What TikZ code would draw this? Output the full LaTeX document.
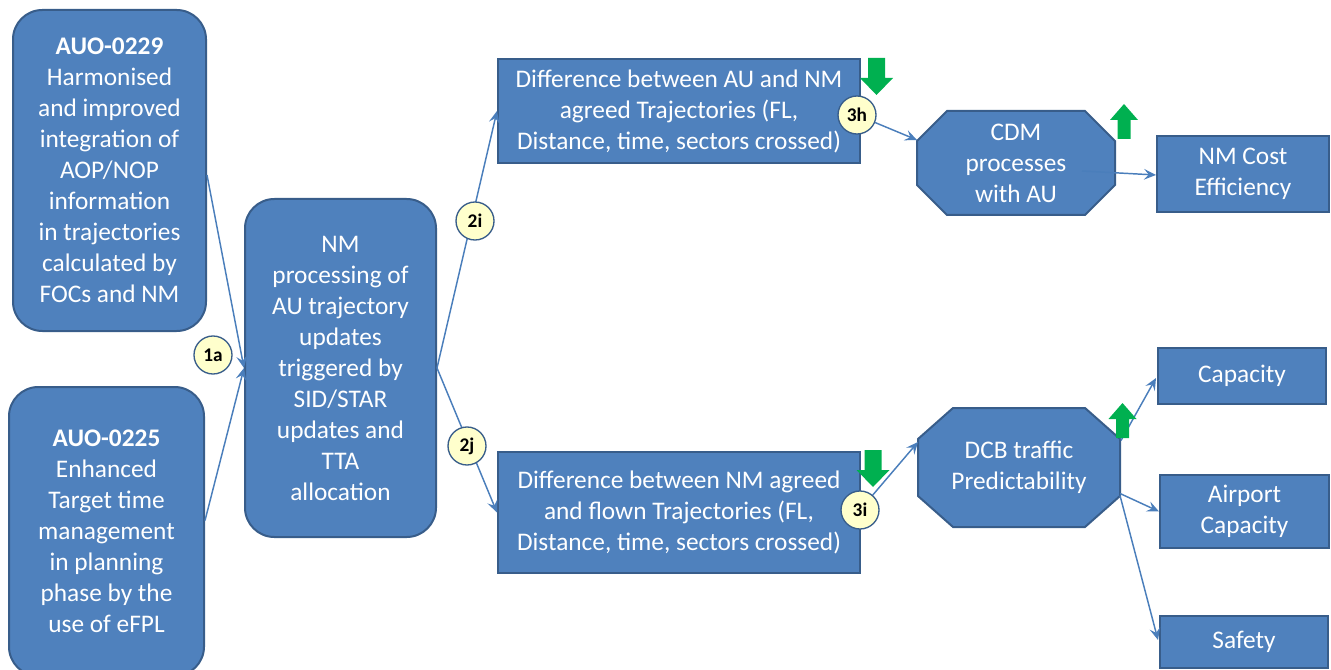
\documentclass[tikz,border=0pt]{standalone}
\usepackage{fontspec}
\setmainfont{Carlito}
\usetikzlibrary{arrows.meta,calc}

% one drawing unit = one pixel of the layout grid
\newlength\pxu
\setlength\pxu{0.75pt}

\definecolor{boxfill}{HTML}{4F81BD}
\definecolor{boxline}{HTML}{385D8A}
\definecolor{linkblue}{HTML}{4A7EBB}
\definecolor{badgefill}{HTML}{FFFFCC}
\definecolor{trendgreen}{HTML}{00B050}

\pgfdeclarelayer{back}
\pgfdeclarelayer{front}
\pgfsetlayers{back,main,front}

\tikzset{
  boxtext/.style={text=white, align=center, inner sep=0pt,
    font=\fontsize{19}{23.25}\selectfont},
  basebox/.style={boxtext, fill=boxfill, draw=boxline, line width=1.5pt},
  roundbox/.style={basebox, rounded corners=22pt},
  flatbox/.style={basebox, rectangle},
  octtext/.style={boxtext, rectangle, outer sep=0pt},
  octline/.style={fill=boxfill, draw=boxline, line width=1.5pt, line join=miter},
  badge/.style={circle, fill=badgefill, draw=boxline, line width=1pt,
    minimum size=28.5pt, inner sep=0pt,
    font=\fontsize{14.5}{16}\selectfont\bfseries},
  link/.style={draw=linkblue, line width=1.1pt,
    -{Stealth[length=9pt,width=8pt,inset=3.5pt]}},
  greendown/.pic={\fill[trendgreen] (-8.5,-18.5) -- (8.5,-18.5) -- (8.5,1.5)
    -- (16.5,1.5) -- (0,18.5) -- (-16.5,1.5) -- (-8.5,1.5) -- cycle;},
  greenup/.pic={\fill[trendgreen] (-6.5,17.5) -- (6.5,17.5) -- (6.5,-1.5)
    -- (14,-1.5) -- (0,-17.5) -- (-14,-1.5) -- (-6.5,-1.5) -- cycle;},
}

% octagon outline around a named node: #1 node, #2 horizontal cut, #3 vertical cut
\newcommand\octagonaround[3]{%
  \draw[octline] ($(#1.north west)+(#2,0)$) -- ($(#1.north east)+(-#2,0)$)
    -- ($(#1.north east)+(0,#3)$) -- ($(#1.south east)+(0,-#3)$)
    -- ($(#1.south east)+(-#2,0)$) -- ($(#1.south west)+(#2,0)$)
    -- ($(#1.south west)+(0,-#3)$) -- ($(#1.north west)+(0,#3)$) -- cycle;}

\begin{document}
\begin{tikzpicture}[x=\pxu, y=-\pxu]
\useasboundingbox (0,0) rectangle (1331,670);
\clip (0,0) rectangle (1331,670);

% operational improvements
\node[roundbox, minimum width=193\pxu, minimum height=321\pxu] (aop) at (109.5,170.5)
  {\textbf{AUO-0229}\\Harmonised\\and improved\\integration of\\AOP/NOP\\information\\in trajectories\\calculated by\\FOCs and NM};
\node[roundbox, minimum width=195\pxu, minimum height=289\pxu] (tta) at (106.5,531.5)
  {\textbf{AUO-0225}\\Enhanced\\Target time\\management\\in planning\\phase by the\\use of eFPL};

% NM processing
\node[roundbox, minimum width=191\pxu, minimum height=338\pxu] (nmp) at (340.5,368)
  {NM\\processing of\\AU trajectory\\updates\\triggered by\\SID/STAR\\updates and\\TTA\\allocation};

% trajectory differences
\node[flatbox, minimum width=362\pxu, minimum height=104\pxu] (agreed) at (679,111)
  {Difference between AU and NM\\agreed Trajectories (FL,\\Distance, time, sectors crossed)};
\node[flatbox, minimum width=362\pxu, minimum height=121\pxu] (flown) at (679,512.5)
  {Difference between NM agreed\\and flown Trajectories (FL,\\Distance, time, sectors crossed)};

% intermediate effects (octagons)
\node[octtext, minimum width=198\pxu, minimum height=104\pxu] (cdm) at (1016,163)
  {CDM\\processes\\with AU};
\node[octtext, minimum width=202\pxu, minimum height=119\pxu] (dcb) at (1019,467.5)
  {DCB traffic\\Predictability};
\begin{pgfonlayer}{back}
  \octagonaround{cdm}{30}{30}
  \octagonaround{dcb}{35}{31}
\end{pgfonlayer}

% performance areas
\node[flatbox, minimum width=172\pxu, minimum height=76\pxu] (cost) at (1243,174)
  {NM Cost\\Efficiency};
\node[flatbox, minimum width=168\pxu, minimum height=56\pxu] (cap) at (1242,376)
  {Capacity};
\node[flatbox, minimum width=169\pxu, minimum height=73\pxu] (apt) at (1244.5,511.5)
  {Airport\\Capacity};
\node[flatbox, minimum width=168\pxu, minimum height=52\pxu] (saf) at (1244,642)
  {Safety};

% numbered badges and trend arrows
\begin{pgfonlayer}{front}
  \node[badge] (b1a) at (213,355) {1a};
  \node[badge] (b2i) at (475,221) {2i};
  \node[badge] (b2j) at (467,446) {2j};
  \node[badge] (b3h) at (857,115) {3h};
  \node[badge] (b3i) at (860,510) {3i};
  \pic at (876.5,76.5) {greendown};
  \pic at (873,468.5) {greendown};
  \pic at (1124,121.5) {greenup};
  \pic at (1122.5,420.5) {greenup};
\end{pgfonlayer}

% connectors
\draw[link] ($(aop.east)+(0,4.5)$) -- (nmp.west);
\draw[link] ($(tta.east)+(0,-11)$) -- (nmp.west);
\draw[link] (nmp.east) -- (agreed.west);
\draw[link] (nmp.east) -- (flown.west);
\draw[link] (b3h) -- ($(cdm.north west)+(0,29)$);
\draw[link] ($(cdm.center)+(66,8)$) -- ($(cost.west)+(0,1)$);
\draw[link] (b3i) -- ($(dcb.north west)+(0,34)$);
\draw[link] ($(dcb.east)+(1,-27)$) -- ($(cap.west)+(-1,2)$);
\draw[link] ($(dcb.east)+(0,26)$) -- (apt.west);
\draw[link] ($(dcb.east)+(0,28)$) -- ($(saf.west)+(-1,-2)$);
\end{tikzpicture}
\end{document}
